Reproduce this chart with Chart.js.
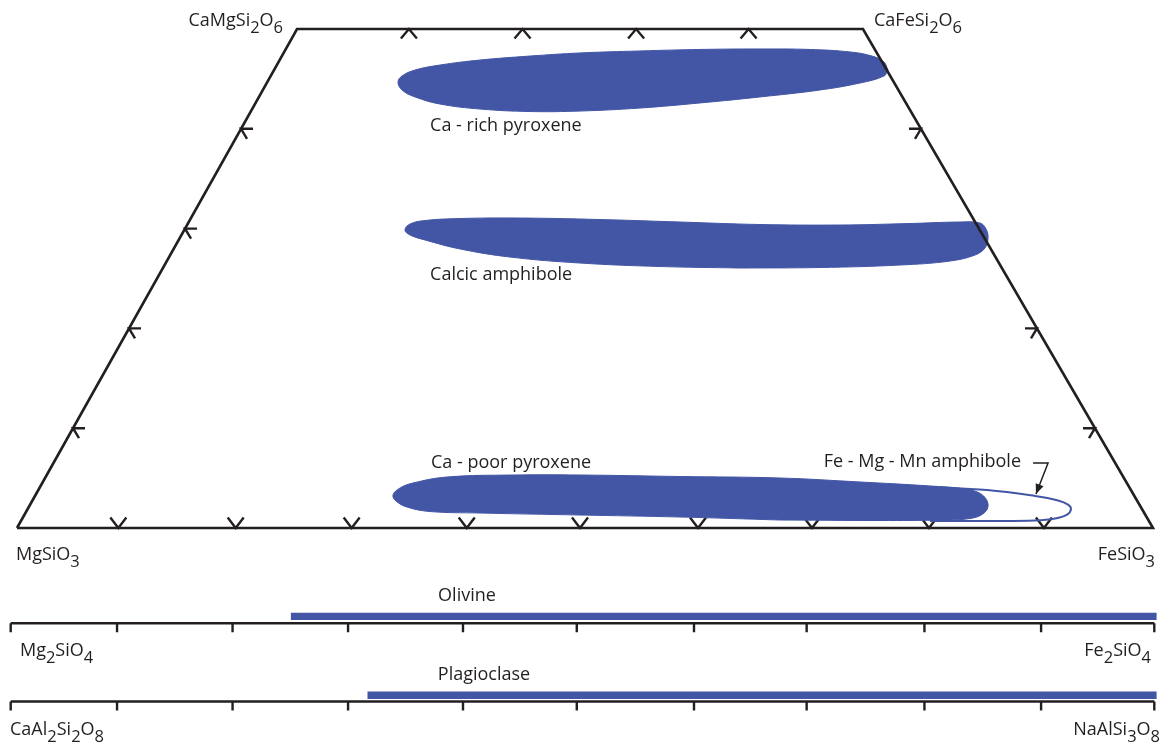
<!DOCTYPE html>
<html>
<head>
<meta charset="utf-8">
<script src="https://cdn.jsdelivr.net/npm/chart.js@4.4.1/dist/chart.umd.min.js"></script>
<style>
  html, body { margin: 0; padding: 0; background: #fff; }
  #wrap { width: 1166px; height: 742px; }
</style>
</head>
<body>
<div id="wrap"><canvas id="quadChart" width="1166" height="742"></canvas></div>
<script>
// pyroxene quadrilateral: x = position along MgSiO3 -> FeSiO3 (0-100), y = Wo (0-50)
const quadX = [0, 100, 74.47, 24.65, 0];
const quadY = [0, 0, 50, 50, 0];

const baseTicks = [8.92, 19.25, 29.46, 39.59, 49.56, 59.95, 69.98, 80.28, 90.40];
const topTicks = [34.5, 44.5, 54.5, 64.4];
const sideTicks = [10, 20, 30, 40];   // Wo

// fields
const caRichX = [76.67, 76.32, 74.21, 70.69, 65.40, 60.12, 54.84, 49.56, 45.16, 40.76, 37.24, 35.04, 33.89, 33.54, 33.89, 35.04, 37.24, 40.76, 45.16, 49.56, 54.84, 60.12, 65.40, 69.81, 73.33, 75.26, 76.32, 76.67];
const caRichY = [45.89, 45.29, 44.59, 43.89, 43.19, 42.59, 42.08, 41.78, 41.73, 41.98, 42.48, 43.19, 43.89, 44.69, 45.29, 45.89, 46.39, 46.89, 47.29, 47.60, 47.80, 47.95, 48.00, 47.95, 47.70, 47.29, 46.69, 45.89];

const calcicX = [63.64, 56.60, 49.56, 43.40, 39.00, 35.92, 34.60, 34.15, 34.60, 35.92, 39.00, 44.28, 51.32, 58.36, 65.40, 72.45, 78.61, 83.01, 84.77, 85.30, 85.48, 85.21, 84.33, 82.13, 77.73, 70.69, 63.64];
const calcicY = [26.05, 26.20, 26.55, 27.15, 27.96, 28.86, 29.36, 29.86, 30.46, 30.81, 31.01, 31.06, 30.91, 30.66, 30.41, 30.36, 30.51, 30.66, 30.56, 29.96, 29.06, 28.06, 27.35, 26.75, 26.35, 26.10, 26.05];

const caPoorX = [67.17, 58.36, 49.56, 40.76, 36.36, 34.33, 33.36, 33.10, 33.72, 34.86, 37.85, 43.66, 49.56, 58.36, 67.17, 74.21, 80.37, 83.45, 84.86, 85.48, 85.13, 83.89, 81.25, 75.97, 67.17];
const caPoorY = [0.80, 1.10, 1.30, 1.50, 1.65, 2.10, 2.71, 3.31, 4.01, 4.51, 5.11, 5.31, 5.31, 5.16, 5.01, 4.61, 4.21, 3.91, 3.41, 2.40, 1.50, 0.95, 0.80, 0.75, 0.80];

const feMgMnX = [80.37, 85.39, 89.61, 91.64, 92.52, 92.78, 92.43, 91.38, 89.61, 85.65, 80.37];
const feMgMnY = [4.11, 3.81, 3.21, 2.76, 2.35, 1.90, 1.35, 0.95, 0.75, 0.70, 0.70];

const arrowX = [89.44, 90.76, 89.70];
const arrowY = [6.51, 6.51, 3.41];

// olivine / plagioclase strips (0-100 along each)
const stripTicks = [0, 9.3, 19.4, 29.5, 39.55, 49.5, 59.75, 69.6, 79.9, 90.1, 100];
const olivineRange = [24.5, 100.2];
const plagRange = [31.2, 100.2];

// layout
const X0 = 17, Y0 = 528, KX = 11.36, KY = 9.98;   // quadrilateral frame in px
const X0b = 10.7, KXb = 11.436;                   // strips frame
const olivineAxisY = -9.55, olivineBarY = -8.85;
const plagAxisY = -17.38, plagBarY = -16.76;
const INK = '#231f20';
const BLUE = '#4356a5';
const FONT = '"Open Sans", "Noto Sans", sans-serif';

function pts(xs, ys) { return xs.map((x, i) => ({x: x, y: ys[i]})); }

// chevron ticks, arms given in screen px (y down)
function chevrons(apexes, arms) {
  const out = [];
  apexes.forEach(a => {
    out.push({x: a.x + arms[0][0] / KX, y: a.y - arms[0][1] / KY});
    out.push({x: a.x, y: a.y});
    out.push({x: a.x + arms[1][0] / KX, y: a.y - arms[1][1] / KY});
    out.push({x: a.x, y: null});
  });
  return out;
}

const leftEdge = w => quadX[3] * w / 50;
const rightEdge = w => 100 - (100 - quadX[2]) * w / 50;

function stripAxis(axisY) {
  const out = [{x: 0, y: axisY}, {x: 100, y: axisY}, {x: 0, y: null}];
  stripTicks.forEach(t => {
    out.push({x: t, y: axisY}, {x: t, y: axisY - 9 / KY}, {x: t, y: null});
  });
  return out;
}

const labelItems = [
  {text: 'CaMgSi2O6', x: 23.42, y: 50.30, align: 'right', formula: true},
  {text: 'CaFeSi2O6', x: 75.44, y: 50.30, align: 'left', formula: true},
  {text: 'MgSiO3', x: -0.09, y: -3.21, align: 'left', formula: true},
  {text: 'FeSiO3', x: 100.18, y: -3.21, align: 'right', formula: true},
  {text: 'Ca - rich pyroxene', x: 36.36, y: 39.78, align: 'left'},
  {text: 'Calcic amphibole', x: 36.36, y: 24.85, align: 'left'},
  {text: 'Ca - poor pyroxene', x: 36.44, y: 6.01, align: 'left'},
  {text: 'Fe - Mg - Mn amphibole', x: 88.38, y: 6.11, align: 'right'},
  {text: 'Olivine', axis: 'x2', x: 39.9, y: -7.31, align: 'center'},
  {text: 'Plagioclase', axis: 'x2', x: 41.39, y: -15.23, align: 'center'},
  {text: 'Mg2SiO4', axis: 'x2', x: 0.81, y: -12.83, align: 'left', formula: true},
  {text: 'Fe2SiO4', axis: 'x2', x: 99.71, y: -12.83, align: 'right', formula: true},
  {text: 'CaAl2Si2O8', axis: 'x2', x: -0.06, y: -20.74, align: 'left', formula: true},
  {text: 'NaAlSi3O8', axis: 'x2', x: 100.50, y: -20.74, align: 'right', formula: true}
];

function drawRich(ctx, item, x, y) {
  const runs = item.formula
    ? item.text.match(/\d+|\D+/g).map(s => ({s: s, sub: /\d/.test(s)}))
    : [{s: item.text, sub: false}];
  const fontOf = r => (r.sub ? '16.5px ' : '18px ') + FONT;
  let w = 0;
  runs.forEach(r => { ctx.font = fontOf(r); r.w = ctx.measureText(r.s).width; w += r.w; });
  let cx = item.align === 'right' ? x - w : item.align === 'center' ? x - w / 2 : x;
  ctx.fillStyle = INK;
  ctx.textAlign = 'left';
  ctx.textBaseline = 'alphabetic';
  runs.forEach(r => {
    ctx.font = fontOf(r);
    ctx.fillText(r.s, cx, r.sub ? y + 7 : y);
    cx += r.w;
  });
}

const labelPlugin = {
  id: 'quadLabels',
  afterDatasetsDraw(chart) {
    const ctx = chart.ctx;
    ctx.save();
    // arrow head on the amphibole pointer
    const meta = chart.getDatasetMeta(chart.data.datasets.findIndex(d => d.label === 'arrow'));
    const n = meta.data.length;
    const tip = meta.data[n - 1], from = meta.data[n - 2];
    const ang = Math.atan2(tip.y - from.y, tip.x - from.x);
    const len = 10, half = 4.2;
    ctx.fillStyle = INK;
    ctx.beginPath();
    ctx.moveTo(tip.x, tip.y);
    ctx.lineTo(tip.x - len * Math.cos(ang) + half * Math.sin(ang), tip.y - len * Math.sin(ang) - half * Math.cos(ang));
    ctx.lineTo(tip.x - len * Math.cos(ang) - half * Math.sin(ang), tip.y - len * Math.sin(ang) + half * Math.cos(ang));
    ctx.closePath();
    ctx.fill();

    labelItems.forEach(item => {
      const px = chart.scales[item.axis || 'x'].getPixelForValue(item.x);
      const py = chart.scales.y.getPixelForValue(item.y);
      drawRich(ctx, item, px, py);
    });
    ctx.restore();
  }
};

function blob(label, xs, ys) {
  return {
    label: label,
    data: pts(xs, ys),
    showLine: true,
    fill: 'shape',
    backgroundColor: BLUE,
    borderColor: BLUE,
    borderWidth: 1,
    tension: 0.4,
    pointRadius: 0,
    order: 1
  };
}

function inkLine(label, data, width, order, xAxis) {
  return {
    label: label,
    data: data,
    xAxisID: xAxis || 'x',
    showLine: true,
    fill: false,
    borderColor: INK,
    borderWidth: width,
    borderJoinStyle: 'miter',
    borderCapStyle: 'butt',
    tension: 0,
    pointRadius: 0,
    order: order
  };
}

const datasets = [
  inkLine('quadrilateral', pts(quadX, quadY), 2.6, 0),
  blob('Ca-rich pyroxene', caRichX, caRichY),
  blob('Calcic amphibole', calcicX, calcicY),
  blob('Ca-poor pyroxene', caPoorX, caPoorY),
  {
    label: 'Fe-Mg-Mn amphibole',
    data: pts(feMgMnX, feMgMnY),
    showLine: true,
    fill: false,
    borderColor: BLUE,
    borderWidth: 2,
    tension: 0.4,
    pointRadius: 0,
    order: 2
  },
  inkLine('arrow', pts(arrowX, arrowY), 1.5, 2),
  inkLine('base ticks', chevrons(baseTicks.map(t => ({x: t, y: 0})), [[-8, -10.5], [8, -10.5]]), 2.4, 3),
  inkLine('top ticks', chevrons(topTicks.map(t => ({x: t, y: 50})), [[-8, 9.5], [8, 9.5]]), 2.4, 3),
  inkLine('left ticks', chevrons(sideTicks.map(w => ({x: leftEdge(w), y: w})), [[12, 0], [6, 10]]), 2.4, 3),
  inkLine('right ticks', chevrons(sideTicks.map(w => ({x: rightEdge(w), y: w})), [[-12, 0], [-6, 10]]), 2.4, 3),
  inkLine('olivine axis', stripAxis(olivineAxisY), 2.4, 0, 'x2'),
  inkLine('plagioclase axis', stripAxis(plagAxisY), 2.4, 0, 'x2'),
  {
    label: 'Olivine',
    data: olivineRange.map(v => ({x: v, y: olivineBarY})),
    xAxisID: 'x2',
    showLine: true,
    borderColor: BLUE,
    borderWidth: 7.3,
    borderCapStyle: 'butt',
    pointRadius: 0,
    order: 0
  },
  {
    label: 'Plagioclase',
    data: plagRange.map(v => ({x: v, y: plagBarY})),
    xAxisID: 'x2',
    showLine: true,
    borderColor: BLUE,
    borderWidth: 7.3,
    borderCapStyle: 'butt',
    pointRadius: 0,
    order: 0
  }
];

const config = {
  type: 'scatter',
  data: {datasets: datasets},
  options: {
    responsive: false,
    animation: false,
    layout: {padding: 0},
    scales: {
      x: {type: 'linear', bounds: 'data', min: -X0 / KX, max: (1166 - X0) / KX, display: false},
      x2: {type: 'linear', bounds: 'data', min: -X0b / KXb, max: (1166 - X0b) / KXb, display: false},
      y: {type: 'linear', bounds: 'data', min: -(742 - Y0) / KY, max: Y0 / KY, display: false}
    },
    plugins: {
      legend: {display: false},
      tooltip: {enabled: false}
    },
    events: []
  },
  plugins: [labelPlugin]
};

function build() {
  new Chart(document.getElementById('quadChart'), config);
}

if (document.fonts && document.fonts.load) {
  document.fonts.load('18px "Open Sans"').then(build, build);
} else {
  build();
}
</script>
</body>
</html>
